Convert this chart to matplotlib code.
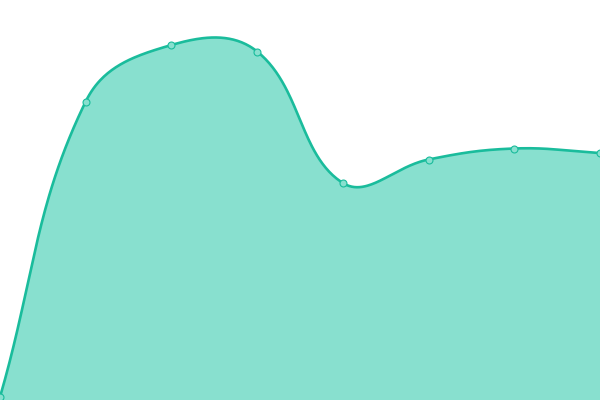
import numpy as np
import matplotlib
matplotlib.use("Agg")
import matplotlib.pyplot as plt

categories = ["A", "B", "C", "D", "E", "F", "G", "H"]
values = [3, 298.5, 355, 348.5, 217, 240.5, 251.5, 247]

LINE = "#1abc9c"
FILL = "#88e0cf"
SMOOTH = 0.4

fig = plt.figure(figsize=(6, 4), dpi=100)
ax = fig.add_axes([0, 0, 1, 1])
ax.set_xlim(0, len(categories) - 1)
ax.set_ylim(0, 400)
ax.axis("off")

xs = np.arange(len(categories), dtype=float)
pts = ax.transData.transform(np.column_stack([xs, values]))

# ECharts-like smoothing in pixel space
curve = []
n = len(pts)
cps = []
for i in range(n):
    cur = pts[i]
    prev = pts[i - 1] if i > 0 else cur
    nxt = pts[i + 1] if i < n - 1 else cur
    v = (nxt - prev) * SMOOTH
    dp = np.linalg.norm(cur - prev)
    dn = np.linalg.norm(nxt - cur)
    r = dn / (dn + dp) if (dn + dp) > 0 else 0.5
    cps.append((cur - v * (1 - r), cur + v * r))
t = np.linspace(0, 1, 60)[:, None]
for i in range(n - 1):
    p0 = pts[i]; p3 = pts[i + 1]
    p1 = cps[i][1]; p2 = cps[i + 1][0]
    seg = ((1 - t) ** 3) * p0 + 3 * ((1 - t) ** 2) * t * p1 + 3 * (1 - t) * t ** 2 * p2 + t ** 3 * p3
    curve.append(seg if i == 0 else seg[1:])
curve = np.vstack(curve)
data_curve = ax.transData.inverted().transform(curve)

ax.fill_between(data_curve[:, 0], data_curve[:, 1], 0, color=FILL, lw=0, zorder=1)
ax.plot(data_curve[:, 0], data_curve[:, 1], color=LINE, lw=1.9, zorder=2, solid_capstyle="round")
ax.plot(xs, values, "o", ms=5, mfc=FILL, mec=LINE, mew=0.8, zorder=3)

fig.savefig("out.png", dpi=100)
